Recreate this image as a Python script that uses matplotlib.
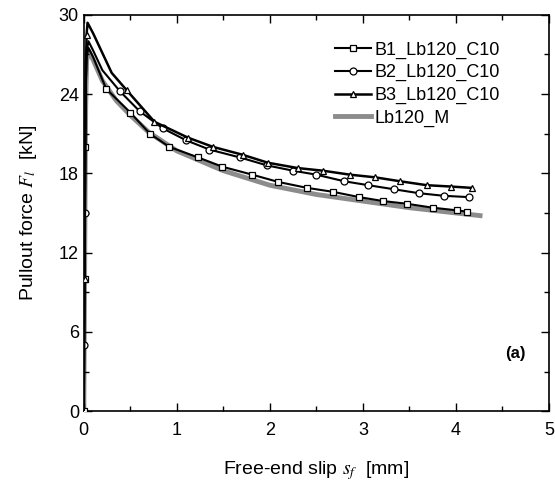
import matplotlib
matplotlib.use("Agg")
import matplotlib.pyplot as plt
from matplotlib.ticker import MultipleLocator

plt.rcParams['font.family'] = ['Liberation Sans', 'DejaVu Sans']
plt.rcParams['mathtext.fontset'] = 'stix'

# Data (slip in mm, force in kN)
b1_x = [0.0, 0.004, 0.008, 0.012, 0.016, 0.02, 0.03, 0.05, 0.1, 0.24, 0.5, 0.71, 0.92, 1.23, 1.49,
        1.81, 2.09, 2.40, 2.68, 2.96, 3.22, 3.47, 3.75, 4.01, 4.12]
b1_y = [0, 5, 10, 15, 20, 24, 26.8, 27.5, 26.8, 24.4, 22.6, 21.0, 20.0, 19.2, 18.5,
        17.9, 17.35, 16.9, 16.6, 16.2, 15.9, 15.7, 15.4, 15.2, 15.1]

b2_x = [0.0, 0.004, 0.008, 0.012, 0.016, 0.02, 0.03, 0.05, 0.1, 0.2, 0.39, 0.6, 0.85, 1.1, 1.35,
        1.68, 1.97, 2.25, 2.5, 2.8, 3.06, 3.33, 3.60, 3.87, 4.14]
b2_y = [0, 5, 10, 15, 20, 24, 27.2, 28.0, 27.3, 25.8, 24.2, 22.7, 21.4, 20.5, 19.8,
        19.2, 18.6, 18.2, 17.9, 17.4, 17.1, 16.8, 16.5, 16.3, 16.2]

b3_x = [0.0, 0.004, 0.008, 0.012, 0.016, 0.02, 0.03, 0.04, 0.1, 0.3, 0.46, 0.76, 1.12, 1.39, 1.71,
        1.98, 2.30, 2.57, 2.86, 3.13, 3.40, 3.69, 3.95, 4.17]
b3_y = [0, 5, 10, 15, 20, 25, 28.5, 29.4, 28.6, 25.6, 24.3, 21.9, 20.7, 20.0, 19.4,
        18.8, 18.4, 18.2, 17.9, 17.7, 17.4, 17.1, 17.0, 16.9]

m_x = [0.0, 0.005, 0.01, 0.015, 0.02, 0.03, 0.05, 0.1, 0.2, 0.35, 0.5, 0.7, 1.0, 1.5, 2.0,
       2.5, 3.0, 3.5, 4.0, 4.26]
m_y = [0, 6, 12, 18, 23, 26.5, 27.3, 26.6, 25.0, 23.5, 22.4, 21.1, 19.7, 18.2, 17.1,
       16.4, 15.9, 15.4, 15.0, 14.8]

labels = ['B1_Lb120_C10', 'B2_Lb120_C10', 'B3_Lb120_C10', 'Lb120_M']

fig = plt.figure(figsize=(5.55, 4.93), dpi=100)
ax = fig.add_axes([0.151, 0.166, 0.838, 0.804])

lm, = ax.plot(m_x, m_y, color='#8c8c8c', lw=3.5, zorder=1, label=labels[3])
mk = dict(mfc='white', mec='black', ms=5, mew=0.9, zorder=3)
l1, = ax.plot(b1_x, b1_y, color='black', lw=1.5, marker='s', label=labels[0],
              markevery=[0, 2, 4] + list(range(9, len(b1_x))), **mk)
l2, = ax.plot(b2_x, b2_y, color='black', lw=1.5, marker='o', label=labels[1],
              markevery=[1, 3] + list(range(10, len(b2_x))), **mk)
l3, = ax.plot(b3_x, b3_y, color='black', lw=1.8, marker='^', label=labels[2],
              markevery=[2, 6] + list(range(10, len(b3_x))), **mk)

ax.set_xlim(0, 5)
ax.set_ylim(0, 30)
ax.xaxis.set_major_locator(MultipleLocator(1))
ax.xaxis.set_minor_locator(MultipleLocator(0.5))
ax.yaxis.set_major_locator(MultipleLocator(6))
ax.yaxis.set_minor_locator(MultipleLocator(3))
ax.tick_params(which='both', direction='in', top=True, right=True, labelsize=13)
ax.tick_params(axis='x', which='major', pad=8)
ax.tick_params(which='major', length=6, width=1)
ax.tick_params(which='minor', length=3.5, width=1)
for s in ax.spines.values():
    s.set_linewidth(1.2)

ax.set_xlabel(r'Free-end slip $s_f$  [mm]', fontsize=14, labelpad=14)
ax.set_ylabel(r'Pullout force $F_l$  [kN]', fontsize=14, labelpad=14)

ax.legend(handles=[l1, l2, l3, lm], loc='upper left', bbox_to_anchor=(0.52, 0.955),
          frameon=False, fontsize=13, handlelength=2.0, labelspacing=0.3,
          handletextpad=0.2, borderpad=0)

ax.text(0.927, 0.146, '(a)', transform=ax.transAxes, fontsize=12, fontweight='bold',
        ha='center', va='center')

fig.savefig('out.png', dpi=100)
